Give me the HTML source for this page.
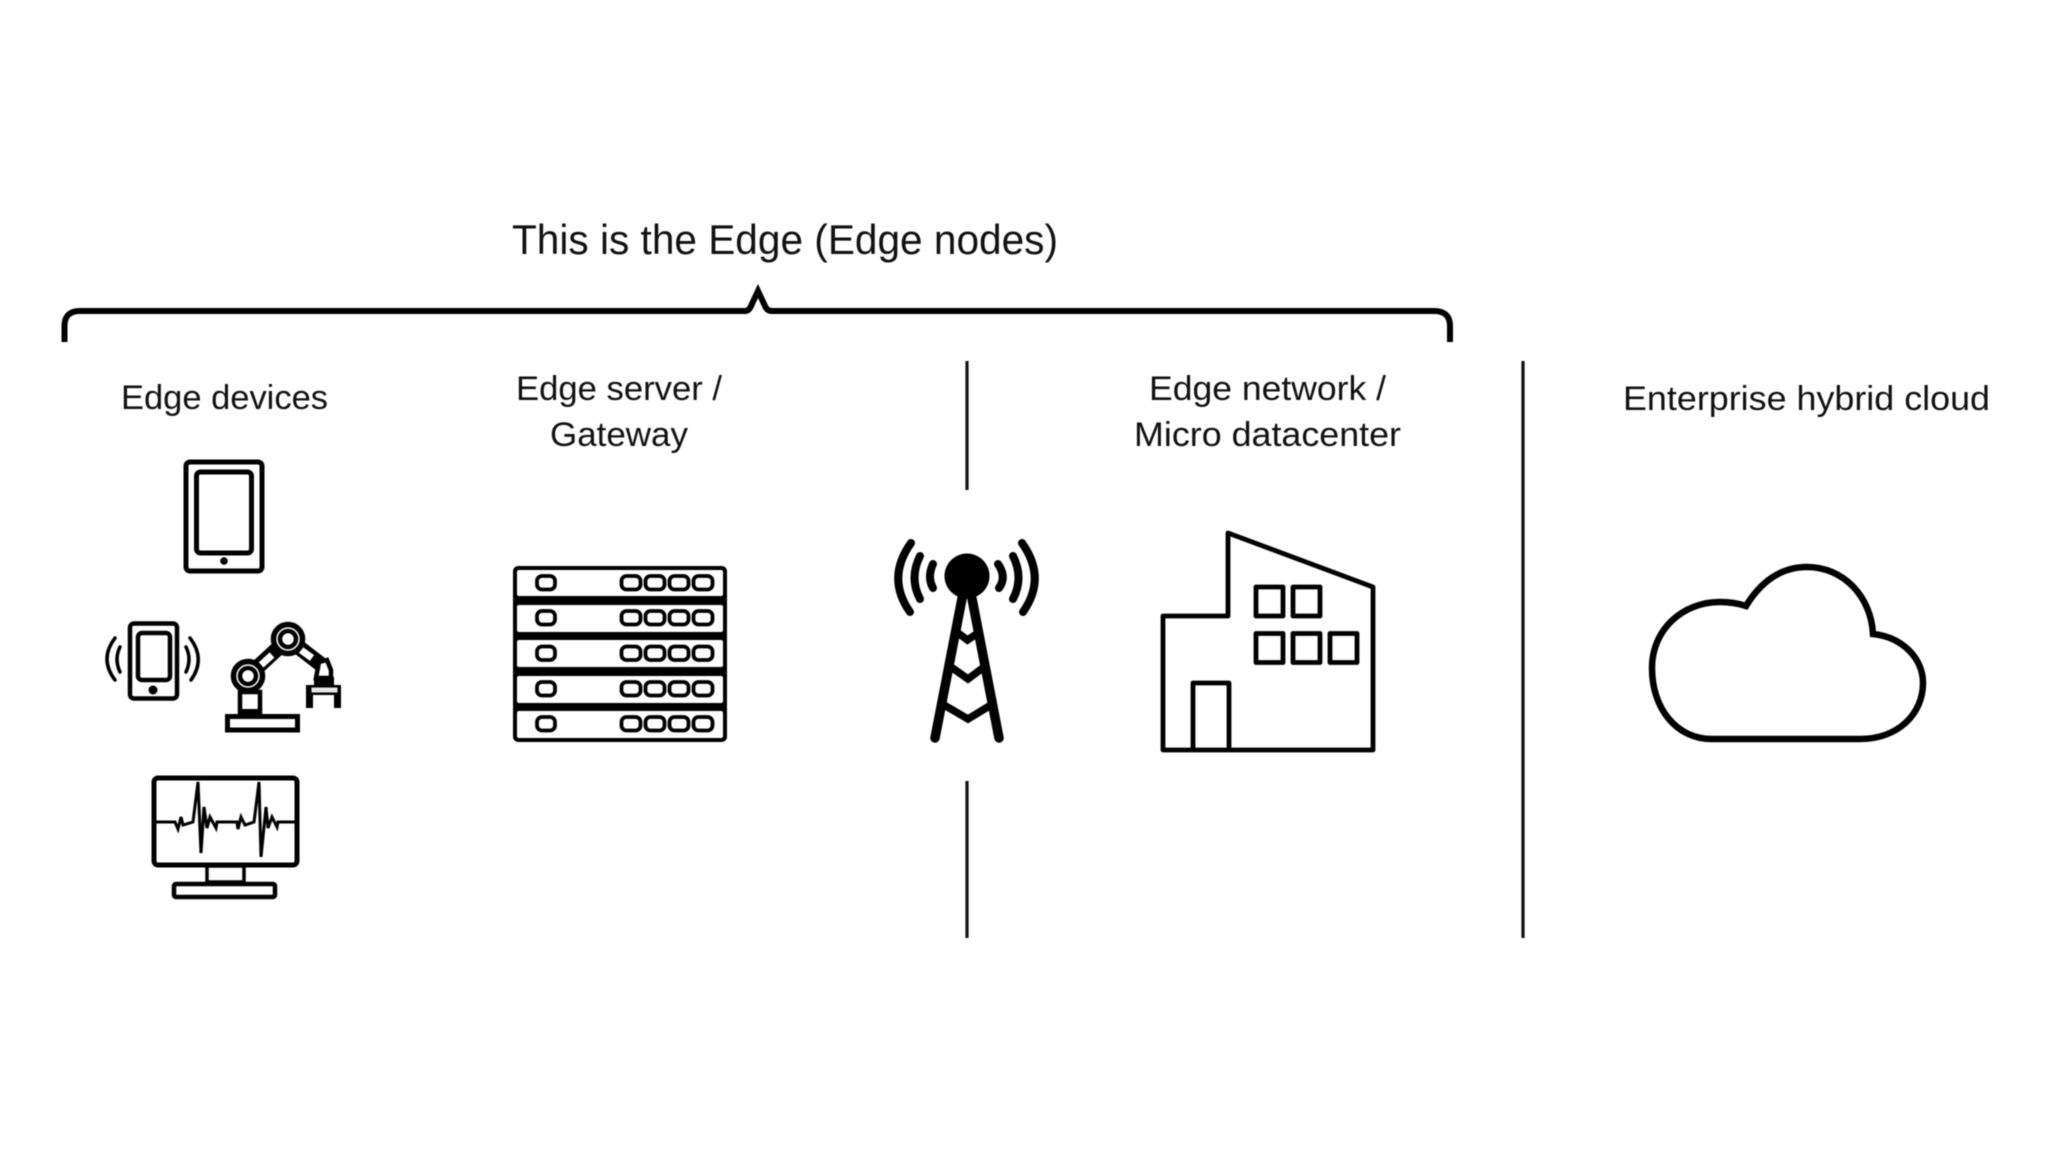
<!DOCTYPE html>
<html>
<head>
<meta charset="utf-8">
<style>
html,body{margin:0;padding:0;background:#fff;width:2048px;height:1152px;overflow:hidden}
svg{display:block;filter:blur(.45px)}
text{font-family:"Liberation Sans",sans-serif;fill:#111;stroke:none}
</style>
</head>
<body>
<svg width="2048" height="1152" viewBox="0 0 2048 1152" xmlns="http://www.w3.org/2000/svg">
<rect width="2048" height="1152" fill="#fff"/>

<!-- labels -->
<text x="512" y="254" font-size="42" textLength="546" lengthAdjust="spacingAndGlyphs">This is the Edge (Edge nodes)</text>
<text x="121" y="409" font-size="34" textLength="207" lengthAdjust="spacingAndGlyphs">Edge devices</text>
<text x="516" y="400" font-size="34" textLength="206" lengthAdjust="spacingAndGlyphs">Edge server /</text>
<text x="550" y="446" font-size="34" textLength="138" lengthAdjust="spacingAndGlyphs">Gateway</text>
<text x="1149" y="400" font-size="34" textLength="237" lengthAdjust="spacingAndGlyphs">Edge network /</text>
<text x="1134" y="446" font-size="34" textLength="267" lengthAdjust="spacingAndGlyphs">Micro datacenter</text>
<text x="1623" y="410" font-size="34" textLength="367" lengthAdjust="spacingAndGlyphs">Enterprise hybrid cloud</text>

<!-- brace -->
<path d="M64.500 342V326Q64.500 311 80 311H745Q749 311 751 306L758 291L765 306Q767 311 772 311H1434Q1450 311 1450 326V342" fill="none" stroke="#000" stroke-width="6"/>

<!-- separators -->
<g stroke="#111" stroke-width="3.200" fill="none">
<path d="M967 361V490"/>
<path d="M967 781V938"/>
<path d="M1523 361V938"/>
</g>

<!-- tablet -->
<g fill="none" stroke="#000" stroke-width="5">
<rect x="186" y="462" width="76" height="109" rx="4"/>
<rect x="196.500" y="472" width="55" height="81" rx="4"/>
</g>
<circle cx="224" cy="561" r="3.800" fill="#000"/>

<!-- phone -->
<g fill="none" stroke="#000">
<rect x="130" y="623.500" width="47" height="75" rx="4" stroke-width="4.500"/>
<rect x="138" y="633" width="32" height="47" rx="4" stroke-width="4.500"/>
<g stroke-width="3.500" stroke-linecap="round">
<path d="M115 638Q99 659 115 680"/>
<path d="M120 647Q114 659 120 672"/>
<path d="M190 638Q206 659 191 680"/>
<path d="M186 647Q192 659 186 672"/>
</g>
</g>
<circle cx="153" cy="690" r="4.500" fill="#000"/>

<!-- robot arm -->
<g>
<path d="M248 676L288 639L323 666" fill="none" stroke="#000" stroke-width="15"/>
<path d="M261 665L272 655" stroke="#fff" stroke-width="7" fill="none"/>
<path d="M301 650L312 658" stroke="#fff" stroke-width="7" fill="none"/>
<rect x="240" y="692" width="20" height="22" fill="#fff" stroke="#000" stroke-width="4.500"/>
<rect x="238" y="709" width="24" height="6" fill="#000"/>
<rect x="227.500" y="716.500" width="70" height="13.500" fill="#fff" stroke="#000" stroke-width="5"/>
<circle cx="248" cy="676" r="14.500" fill="#fff" stroke="#000" stroke-width="5.500"/>
<circle cx="248" cy="676" r="8" fill="#fff" stroke="#000" stroke-width="4.500"/>
<circle cx="288" cy="639" r="14.500" fill="#fff" stroke="#000" stroke-width="5.500"/>
<circle cx="288" cy="639" r="8" fill="#fff" stroke="#000" stroke-width="4.500"/>
<path d="M316 678L319 662L327 660L331 670V678Z" fill="#fff" stroke="#000" stroke-width="4.500"/>
<rect x="314" y="677" width="20" height="8" fill="#000"/>
<path d="M306 685H341V708H334V695H313V708H306Z" fill="#000"/>
<rect x="311.500" y="687.500" width="26" height="5" fill="#e6e6e6"/>
</g>

<!-- monitor -->
<g fill="none" stroke="#000">
<rect x="154" y="778" width="143" height="87" rx="4" stroke-width="5"/>
<rect x="207" y="866" width="37" height="16" stroke-width="3.500"/>
<rect x="174" y="884" width="101" height="13" rx="2" stroke-width="4.500"/>
<path d="M156 822H175L178 829L181 817L183 825L193 822L198 782L201 853L204 807L207 828L210 817L216 828L217 822H237L238 829L241 817L245 825L254 822L259 782L261 857L266 807L268 828L272 817L277 827L278 822H296" stroke-width="3" stroke-linejoin="miter"/>
</g>

<!-- server rack -->
<g>
<rect x="513" y="566" width="214" height="176" rx="5" fill="#000"/>
<g fill="#fff">
<rect x="517" y="570" width="206" height="26" rx="2"/>
<rect x="517" y="605" width="206" height="27" rx="2"/>
<rect x="517" y="640" width="206" height="27" rx="2"/>
<rect x="517" y="676" width="206" height="27" rx="2"/>
<rect x="517" y="711" width="206" height="27" rx="2"/>
</g>
<g fill="none" stroke="#000" stroke-width="3.800">
<g>
<rect x="537" y="576" width="18" height="13.500" rx="5"/>
<rect x="621.500" y="576" width="19" height="13.500" rx="5"/>
<rect x="645.500" y="576" width="19" height="13.500" rx="5"/>
<rect x="669.500" y="576" width="19" height="13.500" rx="5"/>
<rect x="693.500" y="576" width="19" height="13.500" rx="5"/>
</g>
<g>
<rect x="537" y="611" width="18" height="13.500" rx="5"/>
<rect x="621.500" y="611" width="19" height="13.500" rx="5"/>
<rect x="645.500" y="611" width="19" height="13.500" rx="5"/>
<rect x="669.500" y="611" width="19" height="13.500" rx="5"/>
<rect x="693.500" y="611" width="19" height="13.500" rx="5"/>
</g>
<g>
<rect x="537" y="646.500" width="18" height="13.500" rx="5"/>
<rect x="621.500" y="646.500" width="19" height="13.500" rx="5"/>
<rect x="645.500" y="646.500" width="19" height="13.500" rx="5"/>
<rect x="669.500" y="646.500" width="19" height="13.500" rx="5"/>
<rect x="693.500" y="646.500" width="19" height="13.500" rx="5"/>
</g>
<g>
<rect x="537" y="682" width="18" height="13.500" rx="5"/>
<rect x="621.500" y="682" width="19" height="13.500" rx="5"/>
<rect x="645.500" y="682" width="19" height="13.500" rx="5"/>
<rect x="669.500" y="682" width="19" height="13.500" rx="5"/>
<rect x="693.500" y="682" width="19" height="13.500" rx="5"/>
</g>
<g>
<rect x="537" y="717" width="18" height="13.500" rx="5"/>
<rect x="621.500" y="717" width="19" height="13.500" rx="5"/>
<rect x="645.500" y="717" width="19" height="13.500" rx="5"/>
<rect x="669.500" y="717" width="19" height="13.500" rx="5"/>
<rect x="693.500" y="717" width="19" height="13.500" rx="5"/>
</g>
</g>
</g>

<!-- tower -->
<g fill="none" stroke="#000" stroke-linecap="round">
<circle cx="967" cy="576" r="22.500" fill="#000" stroke="none"/>
<path d="M962.500 596L935 738" stroke-width="9.500"/>
<path d="M971.500 596L999 738" stroke-width="9.500"/>
<g stroke-width="7.500" stroke-linecap="butt">
<path d="M958 633L967.500 640L978 633"/>
<path d="M951 667L968 679L984 667"/>
<path d="M944 705L968 719L991 705"/>
</g>
<g stroke-width="8">
<path d="M911 543Q886 578 910 612"/>
<path d="M920 556Q909 578 920 599"/>
<path d="M933 564Q927 577 933 588"/>
<path d="M1022 543Q1047 578 1023 612"/>
<path d="M1013 556Q1024 578 1013 599"/>
<path d="M998 564Q1007 577 999 588"/>
</g>
</g>

<!-- building -->
<g fill="none" stroke="#000" stroke-width="4.800" stroke-linejoin="round">
<path d="M1163 616H1228V533L1373 587V750H1163Z"/>
<path d="M1193 750V683H1229V750"/>
<rect x="1256" y="587" width="27" height="29"/>
<rect x="1293" y="587" width="27" height="29"/>
<rect x="1256" y="633.500" width="27" height="29"/>
<rect x="1293" y="633.500" width="27" height="29"/>
<rect x="1330" y="633.500" width="27" height="29"/>
</g>

<!-- cloud -->
<path d="M1712 739H1860C1898 739 1923 714 1923 683C1923 658 1902 637 1873 634C1871 596 1843 567 1807 567C1780 567 1760 583 1746 606C1737 603 1729 602 1720 602C1682 602 1652 630 1652 668C1652 708 1676 739 1712 739Z" fill="none" stroke="#000" stroke-width="6.500" stroke-linejoin="miter"/>
</svg>
</body>
</html>
